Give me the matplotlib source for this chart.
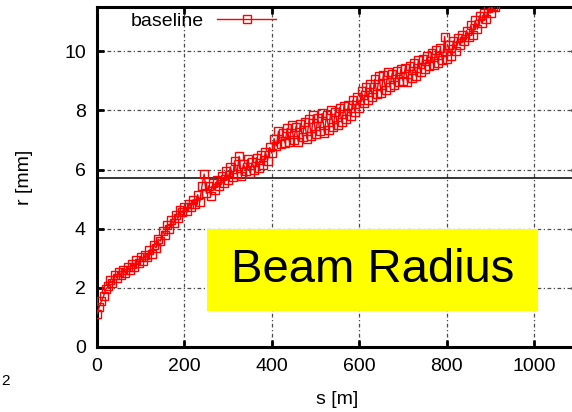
import matplotlib
matplotlib.use("Agg")
import matplotlib.pyplot as plt
from matplotlib.patches import Rectangle

plt.rcParams['font.family'] = ['Liberation Sans', 'DejaVu Sans']

# data
s = [0, 5, 10, 15, 20, 25, 30, 35, 40, 45, 50, 55, 60, 65, 70, 75, 80, 85, 90, 95,
     100, 105, 110, 115, 120, 125, 130, 135, 140, 145, 150, 155, 160, 165, 170, 175, 180, 185, 190, 195,
     200, 205, 210, 215, 220, 225, 230, 235, 240, 245, 250, 255, 260, 265, 270, 275, 280, 285, 290, 295,
     300, 305, 310, 315, 320, 325, 330, 335, 340, 345, 350, 355, 360, 365, 370, 375, 380, 385, 390, 395,
     400, 405, 410, 415, 420, 425, 430, 435, 440, 445, 450, 455, 460, 465, 470, 475, 480, 485, 490, 495,
     500, 505, 510, 515, 520, 525, 530, 535, 540, 545, 550, 555, 560, 565, 570, 575, 580, 585, 590, 595,
     600, 605, 610, 615, 620, 625, 630, 635, 640, 645, 650, 655, 660, 665, 670, 675, 680, 685, 690, 695,
     700, 705, 710, 715, 720, 725, 730, 735, 740, 745, 750, 755, 760, 765, 770, 775, 780, 785, 790, 795,
     800, 805, 810, 815, 820, 825, 830, 835, 840, 845, 850, 855, 860, 865, 870, 875, 880, 885, 890, 895,
     900, 905, 910]
r = [1.12, 1.35, 1.55, 1.72, 1.95, 2.05, 2.25, 2.18, 2.42, 2.35, 2.55, 2.42, 2.62, 2.5, 2.7, 2.62, 2.82, 2.72, 2.95, 2.85,
     3.05, 2.92, 3.12, 3.05, 3.28, 3.15, 3.45, 3.35, 3.65, 3.58, 3.92, 3.78, 4.12, 3.98, 4.3, 4.18, 4.48, 4.35, 4.62, 4.55,
     4.72, 4.6, 4.85, 4.72, 4.98, 4.85, 5.15, 4.92, 5.45, 5.85, 5.2, 5.45, 5.12, 5.55, 5.3, 5.65, 5.45, 5.8, 5.55, 5.95,
     5.65, 6.1, 5.75, 6.3, 5.85, 6.45, 5.8, 6.2, 5.95, 6.35, 5.9, 6.25, 6.0, 6.4, 6.05, 6.5, 6.15, 6.6, 6.3, 6.75,
     6.55, 7.05, 6.8, 7.3, 6.85, 7.25, 6.9, 7.4, 6.95, 7.5, 7.0, 7.45, 6.95, 7.55, 7.1, 7.6, 7.05, 7.7, 7.15, 7.85,
     7.2, 7.75, 7.3, 7.9, 7.25, 7.85, 7.35, 8.0, 7.45, 7.95, 7.5, 8.1, 7.6, 8.15, 7.7, 8.2, 7.8, 8.35, 7.95, 8.45,
     8.1, 8.65, 8.25, 8.8, 8.35, 8.9, 8.45, 9.05, 8.55, 9.15, 8.6, 9.2, 8.7, 9.3, 8.8, 9.25, 8.85, 9.35, 8.95, 9.4,
     9.0, 9.45, 8.95, 9.5, 9.1, 9.6, 9.15, 9.7, 9.3, 9.75, 9.4, 9.85, 9.5, 9.95, 9.55, 10.05, 9.6, 10.1, 9.7, 10.5,
     9.75, 10.2, 9.85, 10.35, 10.0, 10.45, 10.2, 10.55, 10.35, 10.7, 10.5, 10.9, 10.55, 11.05, 10.75, 11.2, 10.95, 11.3, 11.1, 11.45,
     11.3, 11.55, 11.5]
ref_level = 5.73
xticks = [0, 200, 400, 600, 800, 1000]
yticks = [0, 2, 4, 6, 8, 10]

fig = plt.figure(figsize=(5.72, 4.12), dpi=100)
ax = fig.add_axes([0.1696, 0.1578, 0.8409, 0.8252])

ax.plot(s, r, color='red', lw=1, marker='s', ms=5.5, mfc='none', mec='red', mew=1,
        label='baseline', zorder=3)
ax.axhline(ref_level, color='black', lw=1.1, zorder=2)

ax.set_xlim(0, 1100)
ax.set_ylim(0, 11.5)
ax.set_xticks(xticks)
ax.set_yticks(yticks)
ax.grid(True, color='0.3', lw=0.9, linestyle=(0, (3, 2, 1, 2)))
ax.tick_params(direction='in', length=5, width=2, labelsize=14, pad=8,
               top=True, right=True)
for sp in ax.spines.values():
    sp.set_linewidth(2.2)

ax.set_xlabel('s [m]', fontsize=14)
ax.set_ylabel('r [mm]', fontsize=14)
ax.xaxis.set_label_coords(0.5, -0.13)
ax.yaxis.set_label_coords(-0.133, 0.5)

leg = ax.legend(loc='upper left', bbox_to_anchor=(0.07, 0.985), frameon=False,
                fontsize=14, markerfirst=False, handlelength=3.0, handletextpad=0.7,
                borderpad=0, borderaxespad=0)

# yellow label box
ax.add_patch(Rectangle((0.2287, 0.106), 0.688, 0.241, transform=ax.transAxes,
                       facecolor='yellow', edgecolor='none', zorder=4))
ax.text(0.2287 + 0.344, 0.106 + 0.1205, 'Beam Radius', transform=ax.transAxes,
        ha='center', va='center', fontsize=34, zorder=5)

fig.text(0.002, 0.075, '2', fontsize=11, ha='left', va='center')

fig.savefig('out.png', dpi=100)
